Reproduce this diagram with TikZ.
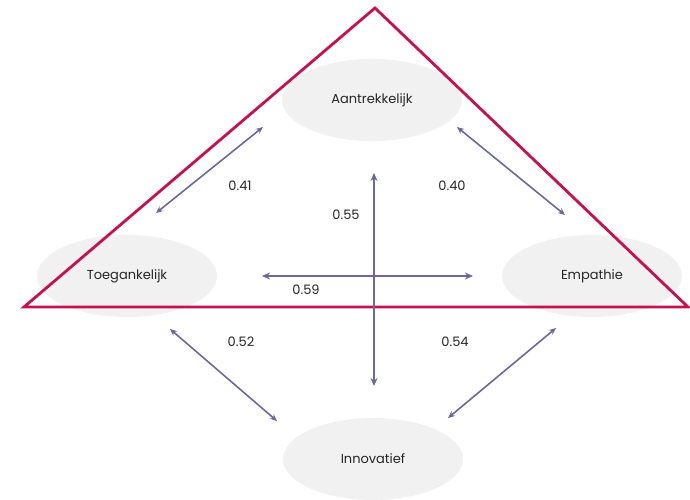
\documentclass[tikz,border=0pt]{standalone}
\usepackage{fontspec}
\setmainfont{Poppins}
\usetikzlibrary{arrows.meta,shapes.geometric}
\definecolor{crim}{HTML}{C8104E}
\definecolor{arr}{HTML}{6B67A0}
\definecolor{ell}{HTML}{F1F1F1}
\begin{document}
\begin{tikzpicture}[x=1pt,y=-1pt,
  blob/.style={ellipse,fill=ell,minimum width=180pt,minimum height=82pt,inner sep=0pt,font=\fontsize{13}{15}\selectfont,text=black!85},
  lbl/.style={font=\fontsize{13}{15}\selectfont,text=black!85},
  link/.style={arr,line width=1.6pt,{Stealth[length=7pt,width=6pt]}-{Stealth[length=7pt,width=6pt]}},
  bigl/.style={arr,line width=2.6pt,{Stealth[length=8pt,width=7pt]}-{Stealth[length=8pt,width=7pt]}},
  tri/.style={crim,line width=2.8pt,line join=miter}]
\useasboundingbox (0,0) rectangle (690,500);
\node[blob] (A) at (372,100) {Aantrekkelijk};
\node[blob] (T) at (127,276) {Toegankelijk};
\node[blob] (E) at (592,276) {Empathie};
\node[blob] (I) at (373,459) {Innovatief};
\coordinate (top) at (375,8);
\coordinate (bl) at (24,307);
\coordinate (br) at (688,307);
\draw[tri] (top) -- (bl) -- (br) -- cycle;
\coordinate (a1) at (263,127); \coordinate (t1) at (156,213);
\coordinate (a2) at (457,127); \coordinate (e1) at (565,215);
\coordinate (vt) at (374,173); \coordinate (vb) at (374,386);
\coordinate (hl) at (262,276); \coordinate (hr) at (473,276);
\coordinate (t2) at (170,329); \coordinate (i1) at (277,421);
\coordinate (e2) at (556,328); \coordinate (i2) at (448,418);
\draw[link] (a1) -- (t1);
\draw[link] (a2) -- (e1);
\draw[bigl] (vt) -- (vb);
\draw[bigl] (hl) -- (hr);
\draw[link] (t2) -- (i1);
\draw[link] (e2) -- (i2);
\node[lbl] (l41) at (240,186) {0.41};
\node[lbl] (l40) at (452,186) {0.40};
\node[lbl] (l55) at (346,215) {0.55};
\node[lbl] (l59) at (306,290) {0.59};
\node[lbl] (l52) at (241,342) {0.52};
\node[lbl] (l54) at (455,342) {0.54};
\end{tikzpicture}
\end{document}
